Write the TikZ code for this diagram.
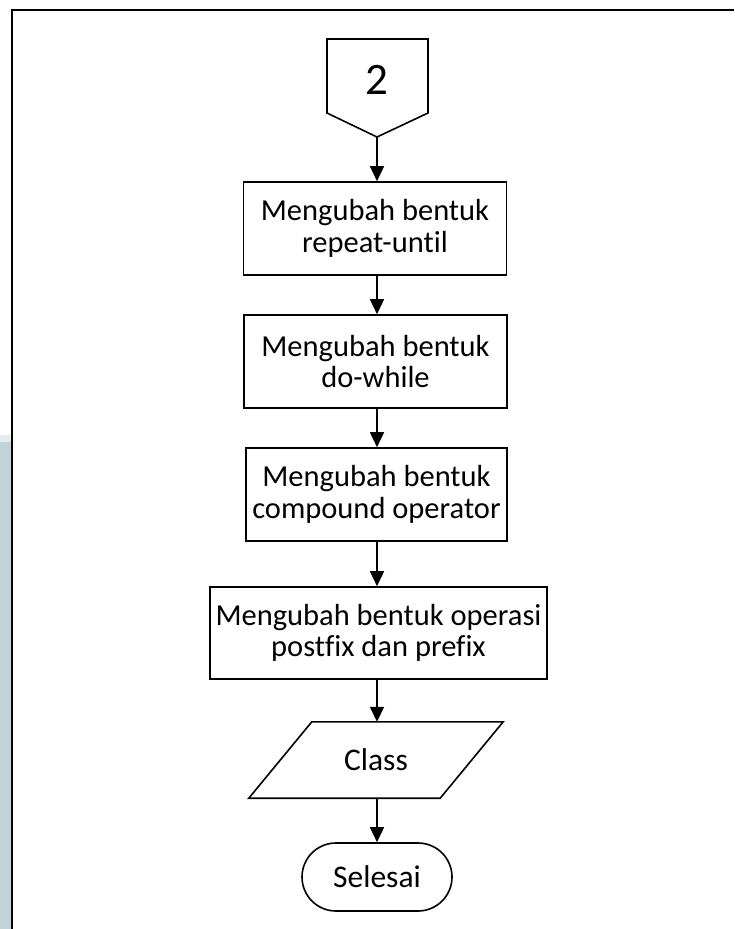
\documentclass[tikz,border=0pt]{standalone}
\usepackage{fontspec}
\setmainfont[Ligatures=NoCommon]{Carlito}
\usetikzlibrary{arrows.meta,calc}
\definecolor{strip}{RGB}{193,211,217}
\definecolor{stripedge}{RGB}{228,236,239}
\begin{document}
\begin{tikzpicture}[x=1pt,y=-1pt,
  every node/.style={font=\fontsize{30.5}{31.5}\selectfont, align=center, inner sep=0pt},
  proc/.style={draw, line width=1.6pt, minimum height=93pt},
  flow/.style={-{Triangle[length=15pt,width=14pt]}, line width=1.6pt},
  edge/.style={line width=1.6pt, line join=miter}]
\useasboundingbox (0,0) rectangle (734,929);
% page margin strip and frame
\fill[stripedge] (0,435) rectangle (11,442);
\fill[strip] (0,442) rectangle (11,929);
\draw[line width=2pt] (734,10) -- (12,10) -- (12,929);

% off-page connector
\coordinate (c2tip) at (377,137);
\draw[edge] (327,39) -- (428,39) -- (428,113) -- (c2tip) -- (327,113) -- cycle;
\node[font=\fontsize{45}{45}\selectfont] (c2) at (377,80) {2};

% process steps
\node[proc, minimum width=263pt] (b1) at (375,228.5) {Mengubah bentuk\\repeat-until};
\node[proc, minimum width=263pt] (b2) at (375.5,361.5) {Mengubah bentuk\\do-while};
\node[proc, minimum width=261pt] (b3) at (376.5,494.5) {Mengubah bentuk\\compound operator};
\node[proc, minimum width=337pt, minimum height=92pt] (b4) at (378.5,633) {Mengubah bentuk operasi\\postfix dan prefix};

% output
\node[font=\fontsize{31.5}{32}\selectfont, minimum width=254pt, minimum height=76pt] (cls) at (376,760) {Class};
\draw[edge] (cls.south west) -- ($(cls.north west)+(63,0)$) -- (cls.north east)
  -- ($(cls.south east)-(63,0)$) -- cycle;

% terminator
\node[font=\fontsize{31.5}{32}\selectfont, draw, line width=1.6pt, rounded corners=34pt, minimum width=150pt, minimum height=68pt] (end) at (377,877) {Selesai};

% connectors
\draw[flow] (c2tip) -- (c2tip |- b1.north);
\draw[flow] (b1.south -| 377,0) -- (377,0 |- b2.north);
\draw[flow] (b2.south -| 377,0) -- (377,0 |- b3.north);
\draw[flow] (b3.south -| 377,0) -- (377,0 |- b4.north);
\draw[flow] (b4.south -| 377,0) -- (377,0 |- cls.north);
\draw[flow] (cls.south -| 377,0) -- (377,0 |- end.north);
\end{tikzpicture}
\end{document}
